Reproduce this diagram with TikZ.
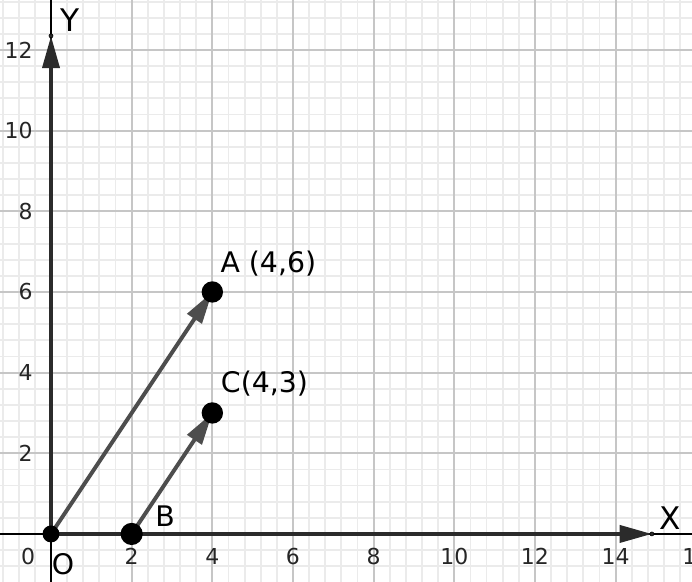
\documentclass[tikz,border=0pt]{standalone}
\usepackage{fontspec}
\setmainfont{DejaVu Sans}
\usetikzlibrary{arrows.meta,positioning}
\definecolor{gmajor}{HTML}{C6C6C6}
\definecolor{gminor}{HTML}{EBEBEB}
\definecolor{gaxis}{HTML}{2B2B2B}
\definecolor{gvec}{HTML}{4D4D4D}
\pgfdeclarelayer{back}
\pgfsetlayers{back,main}

\begin{document}
\begin{tikzpicture}[>=Stealth,thick,
    pt/.style={circle,fill=black,inner sep=0pt,minimum size=5.3mm},
    tipdot/.style={circle,fill=gaxis,draw=black,line width=0.4pt,inner sep=0pt,minimum size=1mm},
    vec/.style={line width=2.8pt,draw=gvec,-{Triangle[length=8mm,width=4.2mm]}},
    axisvec/.style={line width=2.8pt,draw=gaxis,-{Triangle[length=8mm,width=4.2mm]}},
    tick/.style={inner sep=0pt,font=\fontsize{15.5}{18}\selectfont,text=black!85},
    lbl/.style={inner sep=0pt,font=\fontsize{20}{24}\selectfont},
    axlbl/.style={inner sep=0pt,font=\fontsize{22}{26}\selectfont},
  ]
  \useasboundingbox (-1.265,-1.19) rectangle (15.894,13.24);
  \clip (-1.265,-1.19) rectangle (15.894,13.24);
  % points
  \node[pt,minimum size=4.2mm] (O) at (0,0) {};
  \node[pt] (A) at (4,6) {};
  \node[pt,minimum size=5.5mm] (B) at (2,0) {};
  \node[pt] (C) at (4,3) {};
  \node[tipdot] (ytip) at (0,12.35) {};
  \node[tipdot] (xtip) at (14.9,0) {};
  % labels
  \node[lbl,anchor=west] (Alab) at (4.19,6.7) {A (4,6)};
  \node[lbl,anchor=west] (Clab) at (4.2,3.74) {C(4,3)};
  \node[lbl] (Blab) at (2.83,0.44) {B};
  \node[lbl] (Olab) at (0.3,-0.74) {O};
  \node[axlbl] (Ylab) at (0.47,12.73) {Y};
  \node[axlbl] (Xlab) at (15.35,0.38) {X};
  % tick labels
  \node[tick] (x0) at (-0.57,-0.56) {0};
  \foreach \x in {2,4,...,16}
    \node[tick] (x\x) at (\x,-0.56) {\x};
  \foreach \y in {2,4,...,12}
    \node[tick,anchor=east] (y\y) at (-0.44,\y) {\y};
  \begin{pgfonlayer}{back}
    % grid and axes
    \draw[gminor,line width=1.3pt] (-1.265,-1.19) grid[step=0.4] (15.894,13.24);
    \draw[gmajor,line width=1.3pt] (-1.265,-1.19) grid[step=2] (15.894,13.24);
    \draw[black,line width=1pt] (-1.265,0) -- (15.894,0);
    \draw[black,line width=1pt] (0,-1.19) -- (0,13.24);
    \draw[axisvec] (O.center) -- (ytip.center);
    \draw[axisvec] (O.center) -- (xtip.center);
    % vectors
    \draw[vec] (O.center) -- (A.center);
    \draw[vec] (B.center) -- (C.center);
  \end{pgfonlayer}
\end{tikzpicture}
\end{document}
